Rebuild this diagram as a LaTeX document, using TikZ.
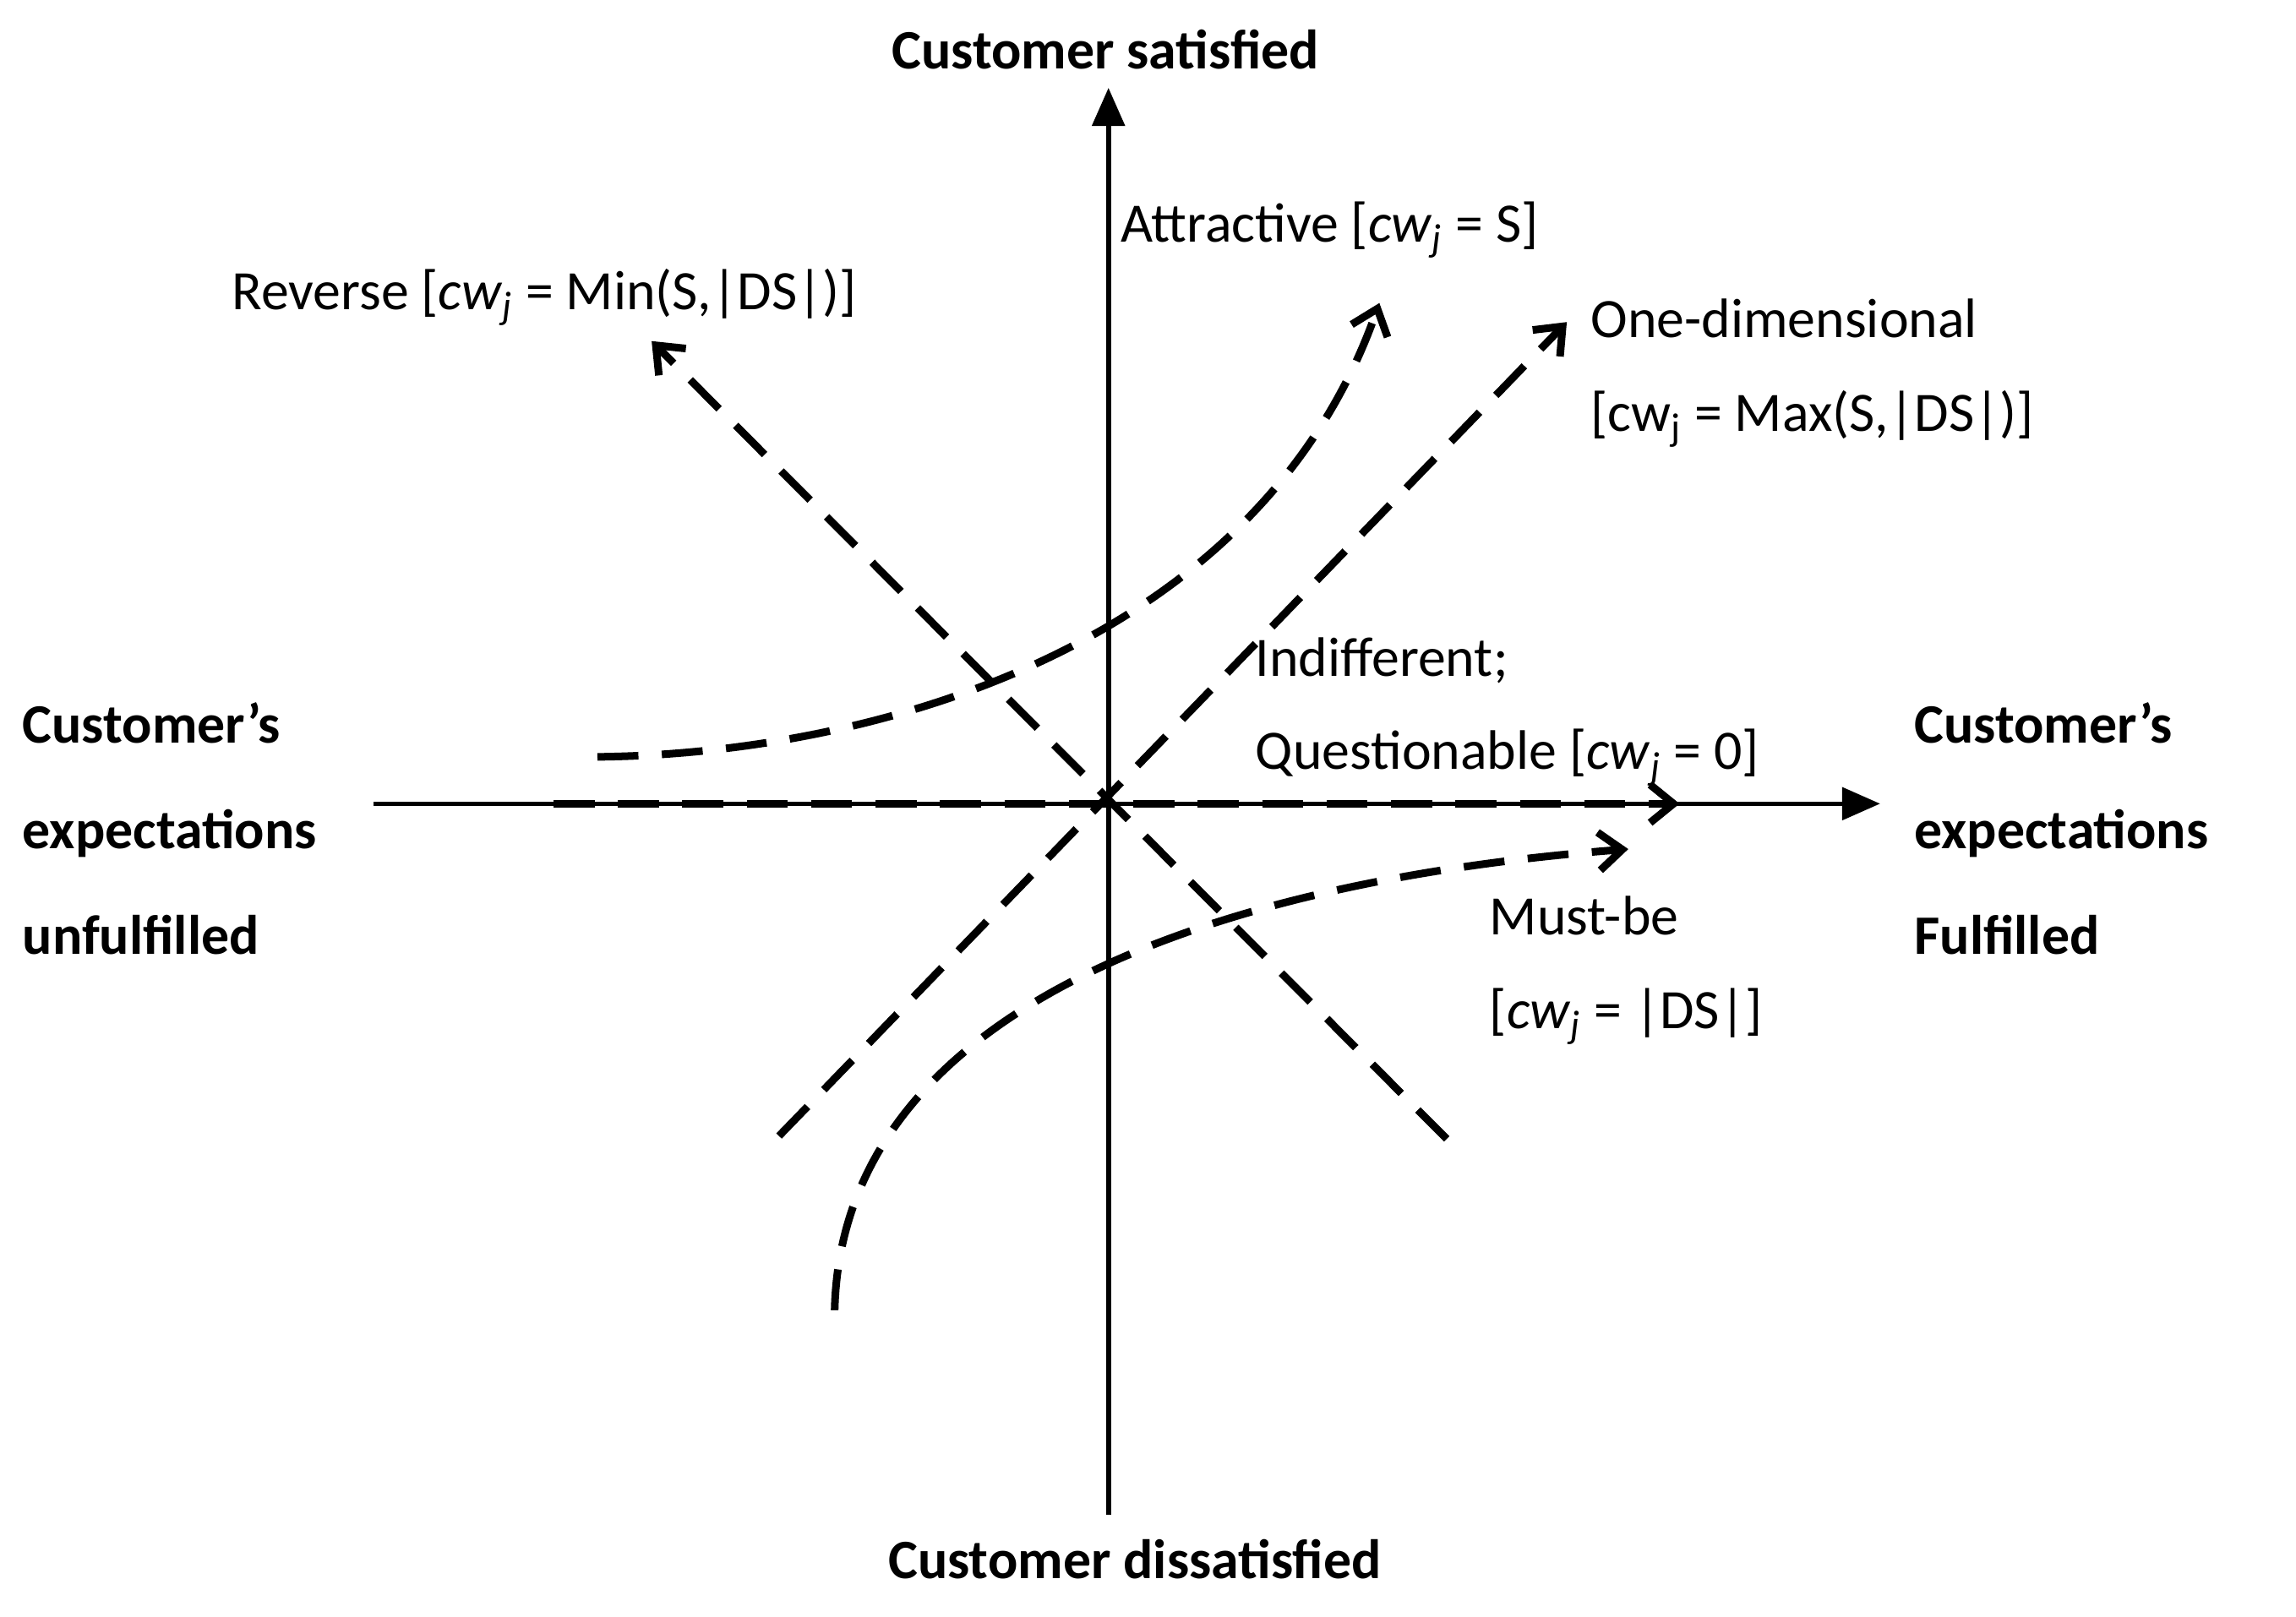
\documentclass[tikz,border=0pt]{standalone}
\usepackage{fontspec}
\setmainfont{Carlito}
\usetikzlibrary{arrows.meta}
\newcommand{\cwj}{\textit{cw}\textsubscript{\textit{j}}}
\begin{document}
\begin{tikzpicture}[x=0.5pt,y=-0.5pt,
  axis/.style={line width=1.6pt,-{Triangle[length=13pt,width=11pt]}},
  dsh/.style={line width=2.6pt,dash pattern=on 14pt off 8pt,-{Straight Barb[length=8pt,width=13pt,line width=2.6pt]}},
  dshn/.style={line width=2.6pt,dash pattern=on 14pt off 8pt},
  lab/.style={font=\fontsize{19}{22}\selectfont,inner sep=0pt},
  blab/.style={font=\bfseries\fontsize{19}{22}\selectfont,inner sep=0pt}]
\useasboundingbox (0,0) rectangle (1568,1104);
\coordinate (O) at (757,549);
\coordinate (vb) at (757,1035); \coordinate (vt) at (757,60);
\coordinate (hl) at (255,549); \coordinate (hr) at (1284,549);
\draw[axis] (vb) -- (vt);
\draw[axis] (hl) -- (hr);
% indifferent
\coordinate (i1) at (378,549); \coordinate (i2) at (1147,549);
\draw[dsh] (i1) -- (i2);
% reverse
\coordinate (r1) at (988,778); \coordinate (r2) at (445,233);
\draw[dsh] (r1) -- (r2);
% one-dimensional
\coordinate (o1) at (532,776); \coordinate (o2) at (1070,220);
\draw[dsh] (o1) -- (o2);
% attractive
\coordinate (a1) at (408,517); \coordinate (a2) at (942,207);
\draw[dsh] (a1) .. controls (600,515) and (860,440) .. (a2);
% must-be
\coordinate (m1) at (570,895); \coordinate (m2) at (1112,580);
\draw[dsh] (m1) .. controls (575,680) and (850,600) .. (m2);
% labels
\node[blab] (ts) at (755,34) {Customer satisfied};
\node[blab] (td) at (775,1065) {Customer dissatisfied};
\node[blab,align=left,anchor=west] (tl) at (15,566) {Customer's\\[14pt]expectations\\[14pt]unfulfilled};
\node[blab,align=left,anchor=west] (tr) at (1307,566) {Customer's\\[14pt]expectations\\[14pt]Fulfilled};
\node[lab,anchor=west] (la) at (765,157) {Attractive [\cwj{} = S]};
\node[lab,anchor=west] (lr) at (158,203) {Reverse [\cwj{} = Min(S,|DS|)]};
\node[lab,anchor=west,align=left] (lo) at (1086,255) {One-dimensional\\[10pt][cw\textsubscript{j} = Max(S,|DS|)]};
\node[lab,anchor=west,align=left] (li) at (857,486) {Indifferent;\\[10pt]Questionable [\cwj{} = 0]};
\node[lab,anchor=west,align=left] (lm) at (1017,663) {Must-be\\[10pt][\cwj{} = |DS|]};
\end{tikzpicture}
\end{document}
